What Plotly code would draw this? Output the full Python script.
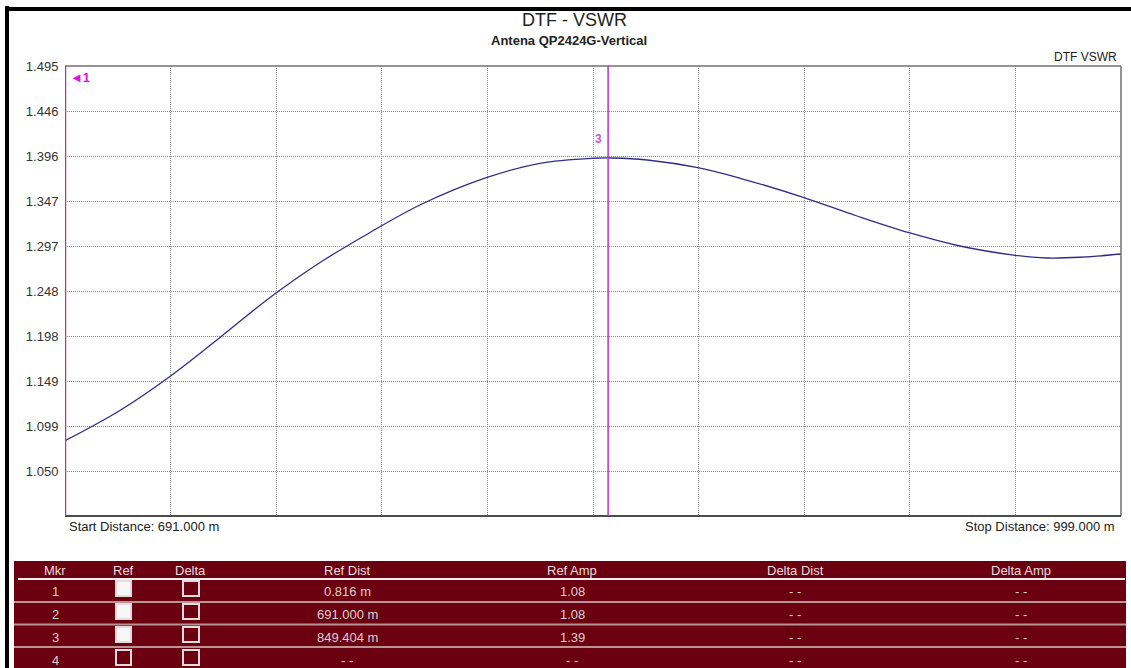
import plotly.graph_objects as go

# ---------------- data ----------------
distance_m = [691.0, 707.0, 721.6, 736.2, 750.8, 765.4, 780.0, 794.5, 814.1, 829.5,
              845.0, 850.8, 860.8, 875.6, 887.9, 906.3, 922.0, 937.2, 952.0, 968.1,
              977.4, 987.0, 999.0]
vswr = [1.0828, 1.1161, 1.1535, 1.1964, 1.2404, 1.2789, 1.3119, 1.3421, 1.3724, 1.3880,
        1.3935, 1.3938, 1.3916, 1.3831, 1.3715, 1.3506, 1.3300, 1.3116, 1.2970, 1.2868,
        1.2838, 1.2846, 1.2882]

y_tick_labels = ["1.050", "1.099", "1.149", "1.198", "1.248", "1.297",
                 "1.347", "1.396", "1.446", "1.495"]
y_min, y_max = 1.0, 1.495
x_start, x_stop = 691.0, 999.0

marker_ids = ["1", "2", "3", "4"]
marker_ref_checked = [True, True, True, False]
marker_delta_checked = [False, False, False, False]
marker_ref_dist_m = [0.816, 691.000, 849.404]
marker_ref_dist = ["0.816 m", "691.000 m", "849.404 m", "- -"]
marker_ref_amp = ["1.08", "1.08", "1.39", "- -"]
marker_delta_dist = ["- -", "- -", "- -", "- -"]
marker_delta_amp = ["- -", "- -", "- -", "- -"]
table_headers = ["Mkr", "Ref", "Delta", "Ref Dist", "Ref Amp", "Delta Dist", "Delta Amp"]

# ---------------- layout geometry (pixels) ----------------
W, H = 1131, 668
L, R, T, B = 65, 1121, 66, 516
PW, PH = R - L, B - T


def px(x):
    return (x - L) / PW


def py(y):
    return (B - y) / PH


FONT = "Liberation Sans, Arial, sans-serif"

fig = go.Figure()
fig.add_trace(go.Scatter(
    x=distance_m, y=vswr, mode="lines",
    line=dict(color="#2e2e88", width=1.3, shape="spline", smoothing=1.0),
    showlegend=False, hoverinfo="x+y"))

n = len(y_tick_labels)
y_step = (y_max - y_min) / n
y_tickvals = [y_min + y_step * (i + 1) for i in range(n)]
x_step = (x_stop - x_start) / 10
x_tickvals = [x_start + x_step * i for i in range(1, 10)]

shapes = []
annotations = []

# outer black frame (left, top)
shapes.append(dict(type="line", xref="paper", yref="paper", x0=px(7), x1=px(7), y0=py(6), y1=py(H + 5),
                   line=dict(color="#000", width=4)))
shapes.append(dict(type="line", xref="paper", yref="paper", x0=px(5), x1=px(W + 5), y0=py(9), y1=py(9),
                   line=dict(color="#000", width=4)))

# plot frame
shapes.append(dict(type="line", xref="paper", yref="paper", x0=0, x1=1, y0=1, y1=1,
                   line=dict(color="#707070", width=1.5)))
shapes.append(dict(type="line", xref="paper", yref="paper", x0=1, x1=1, y0=0, y1=1,
                   line=dict(color="#707070", width=1.5)))
shapes.append(dict(type="line", xref="paper", yref="paper", x0=0, x1=1, y0=0, y1=0,
                   line=dict(color="#111", width=1.5)))

# marker lines (marker 2 at start, marker 3)
shapes.append(dict(type="line", xref="x", yref="paper", x0=marker_ref_dist_m[1], x1=marker_ref_dist_m[1],
                   y0=0, y1=1, line=dict(color="#b030b8", width=2.5)))
shapes.append(dict(type="line", xref="x", yref="paper", x0=marker_ref_dist_m[2], x1=marker_ref_dist_m[2],
                   y0=0, y1=1, line=dict(color="#c030c8", width=1.5)))

annotations.append(dict(xref="paper", yref="paper", x=px(68), y=py(78), xanchor="left", yanchor="middle",
                        text="<b>\u25C41</b>", showarrow=False, font=dict(family=FONT, size=13, color="#e010e0")))
annotations.append(dict(xref="x", yref="paper", x=marker_ref_dist_m[2], xshift=-4, y=py(139),
                        xanchor="right", yanchor="middle", text="<b>3</b>", showarrow=False,
                        font=dict(family=FONT, size=12, color="#cc55cc")))

# titles and labels
annotations.append(dict(xref="paper", yref="paper", x=px(574), y=py(20), xanchor="center", yanchor="middle",
                        text="DTF - VSWR", showarrow=False, font=dict(family=FONT, size=18, color="#222")))
annotations.append(dict(xref="paper", yref="paper", x=px(569), y=py(41), xanchor="center", yanchor="middle",
                        text="<b>Antena QP2424G-Vertical</b>", showarrow=False,
                        font=dict(family=FONT, size=13, color="#222")))
annotations.append(dict(xref="paper", yref="paper", x=px(1119), y=py(57), xanchor="right", yanchor="middle",
                        text="DTF VSWR", showarrow=False, font=dict(family=FONT, size=12, color="#222")))
annotations.append(dict(xref="paper", yref="paper", x=px(67), y=py(526), xanchor="left", yanchor="middle",
                        text=f"Start Distance: {x_start:.3f} m", showarrow=False,
                        font=dict(family=FONT, size=13, color="#222")))
annotations.append(dict(xref="paper", yref="paper", x=px(1117), y=py(526), xanchor="right", yanchor="middle",
                        text=f"Stop Distance: {x_stop:.3f} m", showarrow=False,
                        font=dict(family=FONT, size=13, color="#222")))

# ---------------- marker table ----------------
TBL_L, TBL_R, TBL_T = 14, 1126, 561
shapes.append(dict(type="rect", xref="paper", yref="paper", x0=px(TBL_L), x1=px(TBL_R), y0=py(TBL_T),
                   y1=py(H + 10), fillcolor="#6a0010", line=dict(width=0), layer="above"))
shapes.append(dict(type="line", xref="paper", yref="paper", x0=px(18), x1=px(1125), y0=py(579), y1=py(579),
                   line=dict(color="#f4f0f0", width=2)))
for ysep in [602, 624.5, 647]:
    shapes.append(dict(type="line", xref="paper", yref="paper", x0=px(TBL_L), x1=px(TBL_R), y0=py(ysep),
                       y1=py(ysep), line=dict(color="#b89494", width=2)))

col_x = [55, 123, 190, 347, 572, 795, 1021]
for cx, h in zip(col_x, table_headers):
    annotations.append(dict(xref="paper", yref="paper", x=px(cx), y=py(570), xanchor="center",
                            yanchor="middle", text=h, showarrow=False,
                            font=dict(family=FONT, size=13, color="#eadede")))

row_y = [591, 614, 637, 660]
box_top = [581, 604, 627, 650]
for i in range(4):
    ry = row_y[i]
    for cx, txt in [(col_x[0], marker_ids[i]), (col_x[3], marker_ref_dist[i]), (col_x[4], marker_ref_amp[i]),
                    (col_x[5], marker_delta_dist[i]), (col_x[6], marker_delta_amp[i])]:
        annotations.append(dict(xref="paper", yref="paper", x=px(cx), y=py(ry), xanchor="center",
                                yanchor="middle", text=txt, showarrow=False,
                                font=dict(family=FONT, size=13, color="#ddd0d0")))
    for (bx0, bx1), checked in [((116, 131), marker_ref_checked[i]), ((183, 199), marker_delta_checked[i])]:
        shapes.append(dict(type="rect", xref="paper", yref="paper", x0=px(bx0), x1=px(bx1),
                           y0=py(box_top[i]), y1=py(box_top[i] + 15),
                           fillcolor="#f6f6f6" if checked else "#6a0010",
                           line=dict(color="#e4dcdc", width=2)))

fig.update_layout(
    width=W, height=H,
    margin=dict(l=L, r=W - R, t=T, b=H - B, pad=0),
    paper_bgcolor="white", plot_bgcolor="white",
    font=dict(family=FONT, color="#333"),
    xaxis=dict(range=[x_start, x_stop], showticklabels=False, ticks="", tickvals=x_tickvals,
               showgrid=True, gridcolor="#8a8a8a", gridwidth=1, griddash="1px,1px",
               zeroline=False, showline=False, fixedrange=True),
    yaxis=dict(range=[y_min, y_max], tickvals=y_tickvals, ticktext=y_tick_labels,
               ticks="outside", ticklen=3, tickcolor="rgba(0,0,0,0)",
               tickfont=dict(family=FONT, size=13, color="#333"),
               showgrid=True, gridcolor="#8a8a8a", gridwidth=1, griddash="1px,1px",
               zeroline=False, showline=False, fixedrange=True),
    shapes=shapes,
    annotations=annotations,
    showlegend=False,
)

fig.write_html("out.html", config={"displayModeBar": False},
               post_script="document.body.style.margin='0';document.body.style.overflow='hidden';")
